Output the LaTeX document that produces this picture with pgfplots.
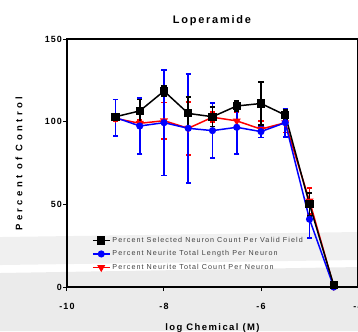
\documentclass[border=0pt]{standalone}
\usepackage{pgfplots}
\usepackage{pgfplotstable}
\pgfplotsset{compat=1.18}
\usepackage{fontspec}
\setmainfont{Liberation Sans}
\newfontfamily\titlefont[LetterSpace=16]{Liberation Sans}
\newfontfamily\ylabfont[LetterSpace=36]{Liberation Sans}
\newfontfamily\xlabfont[LetterSpace=15]{Liberation Sans}
\newfontfamily\tickfont[LetterSpace=12]{Liberation Sans}
\newfontfamily\legfont[LetterSpace=15]{Liberation Sans}

\pgfplotstableread{
x y e
-9 103 2
-8.5 106.5 7
-8 118.5 3
-7.5 105 10
-7 103 6
-6.5 109.5 3
-6 111 13
-5.5 104 3
-5 50 7
-4.5 1 1
}\tblack
\pgfplotstableread{
x y e
-9 102.5 11
-8.5 97.4 17
-8 99.4 32
-7.5 96 33
-7 94.6 16.6
-6.5 96.6 16
-6 94 3.5
-5.5 99.4 8.6
-5 41 11.5
-4.5 0 1
}\tblue
\pgfplotstableread{
x y e
-9 102 2
-8.5 99 2
-8 100.6 11
-7.5 96 16
-7 102.7 3
-6.5 100.5 5
-6 95.5 5
-5.5 99.4 6
-5 52 8
-4.5 0.5 1
}\tred

\begin{document}
\begin{tikzpicture}
\begin{axis}[
  set layers=standard,
  scale only axis,
  width=291bp, height=248bp,
  xmin=-10, xmax=-4, ymin=0, ymax=150,
  clip=false,
  axis line style={line width=1.5pt},
  tick pos=left, tick align=outside,
  major tick length=4pt,
  tick style={line width=1pt, black},
  xtick={-10,-8,-6,-4}, xticklabels={-10,-8,-6,-4},
  ytick={0,50,100,150}, yticklabels={0,50,100,150},
  xticklabel style={font={\tickfont\bfseries\fontsize{9}{10}\selectfont}, yshift=-9pt},
  yticklabel style={font={\tickfont\bfseries\fontsize{9}{10}\selectfont}, xshift=2.5pt},
  title={Loperamide},
  title style={font={\titlefont\bfseries\fontsize{11}{13}\selectfont}, at={(rel axis cs:0.498,1.040)}, anchor=base},
  ylabel={Percent of Control},
  ylabel style={font={\ylabfont\bfseries\fontsize{9.5}{11}\selectfont}, at={(rel axis cs:-0.165,0.497)}, anchor=center, rotate=0},
  xlabel={log Chemical (M)},
  xlabel style={font={\xlabfont\bfseries\fontsize{9.5}{11}\selectfont}, at={(rel axis cs:0.5,-0.175)}, anchor=base},
  error bars/error bar style={line width=1.6pt},
  error bars/error mark options={rotate=90, mark size=2.6pt, line width=1.6pt},
  legend style={at={(rel axis cs:0.075,0.218)}, anchor=north west, draw=none, fill=none,
    font={\legfont\fontsize{7.2}{8}\selectfont}, text=black!75, row sep=2.8pt},
  legend cell align=left,
  reverse legend,
]
\begin{pgfonlayer}{axis background}
\fill[black!6] (rel axis cs:-0.2302,0.2016) -- (rel axis cs:1,0.2218) -- (rel axis cs:1,0.1089) -- (rel axis cs:-0.2302,0.0887) -- cycle;
\fill[black!8] (rel axis cs:-0.2302,0.0565) -- (rel axis cs:1,0.0806) -- (rel axis cs:1,-0.1774) -- (rel axis cs:-0.2302,-0.1774) -- cycle;
\end{pgfonlayer}
\addplot[red, line width=1.5pt, mark=triangle*, mark size=3.2pt, mark options={rotate=180},
  error bars/.cd, y dir=both, y explicit] table[x=x, y=y, y error=e]{\tred};
\addlegendentry{Percent Neurite Total Count Per Neuron}
\addplot[blue, line width=1.5pt, mark=*, mark size=2.8pt,
  error bars/.cd, y dir=both, y explicit] table[x=x, y=y, y error=e]{\tblue};
\addlegendentry{Percent Neurite Total Length Per Neuron}
\addplot[black, line width=1.5pt, mark=square*, mark size=3.3pt,
  error bars/.cd, y dir=both, y explicit] table[x=x, y=y, y error=e]{\tblack};
\addlegendentry{Percent Selected Neuron Count Per Valid Field}
\coordinate (BL) at (rel axis cs:-0.2302,-0.1774);
\coordinate (TR) at (rel axis cs:1,1.1573);
\end{axis}
\pgfresetboundingbox
\useasboundingbox (BL) rectangle (TR);
\end{tikzpicture}
\end{document}
